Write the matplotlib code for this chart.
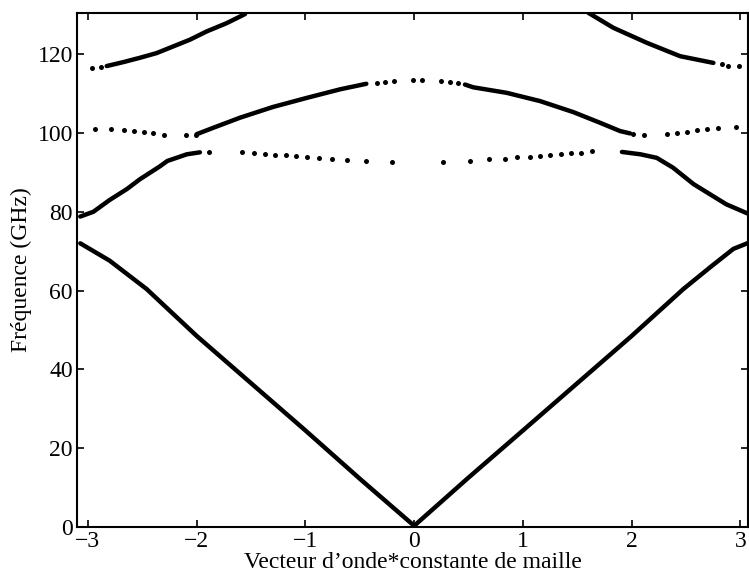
import matplotlib.pyplot as plt

plt.rcParams['font.family'] = ['Liberation Serif', 'DejaVu Serif']

# Branche acoustique (trait continu)
k_b1 = [-3.07, -2.80, -2.46, -2.00, -1.00, -0.49, 0.00, 0.49, 1.00, 2.00, 2.475, 2.72, 2.935, 3.08]
f_b1 = [72.0, 67.6, 60.4, 48.5, 24.5, 12.0, 0.3, 12.3, 24.5, 48.5, 60.4, 65.9, 70.6, 72.2]

# Deuxieme branche : parties continues gauche / droite
k_b2_left = [-3.07, -2.95, -2.80, -2.64, -2.52, -2.34, -2.27, -2.09, -1.97]
f_b2_left = [78.8, 80.0, 83.0, 85.8, 88.3, 91.5, 92.9, 94.6, 95.1]
k_b2_right = [1.91, 2.08, 2.23, 2.38, 2.57, 2.87, 3.08]
f_b2_right = [95.2, 94.6, 93.7, 91.2, 87.0, 81.9, 79.4]
# Deuxieme branche : points isoles
k_b2_dots = [-1.886, -1.586, -1.475, -1.371, -1.277, -1.181, -1.086, -0.982, -0.875, -0.755,
             -0.615, -0.445, -0.206, 0.265, 0.514, 0.688, 0.836, 0.949, 1.066, 1.158,
             1.250, 1.348, 1.443, 1.535, 1.638]
f_b2_dots = [95.3, 95.2, 95.0, 94.8, 94.5, 94.3, 94.1, 93.9, 93.7, 93.4,
             93.2, 92.9, 92.6, 92.6, 92.9, 93.3, 93.5, 93.8, 93.9, 94.1,
             94.4, 94.6, 94.9, 95.0, 95.4]

# Troisieme branche
k_b3_left = [-2.00, -1.85, -1.60, -1.30, -0.99, -0.68, -0.44]
f_b3_left = [99.7, 101.3, 103.9, 106.6, 108.9, 111.1, 112.5]
k_b3_right = [0.467, 0.544, 0.851, 1.158, 1.464, 1.709, 1.893, 1.985]
f_b3_right = [112.3, 111.6, 110.2, 108.1, 105.3, 102.6, 100.5, 99.9]
k_b3_dots = [-2.937, -2.785, -2.671, -2.579, -2.487, -2.401, -2.300, -2.098, -2.003,
             -0.34, -0.27, -0.19, -0.01, 0.07, 0.25, 0.33, 0.405,
             2.015, 2.114, 2.322, 2.420, 2.506, 2.598, 2.690, 2.791, 2.957]
f_b3_dots = [101.1, 100.9, 100.8, 100.5, 100.3, 100.0, 99.6, 99.4, 99.6,
             112.7, 112.9, 113.1, 113.4, 113.4, 113.2, 112.9, 112.6,
             99.8, 99.5, 99.8, 100.1, 100.3, 100.8, 101.1, 101.3, 101.5]

# Quatrieme branche
k_b4_left = [-2.827, -2.674, -2.521, -2.367, -2.214, -2.061, -1.907, -1.723, -1.555]
f_b4_left = [117.0, 118.0, 119.1, 120.3, 122.0, 123.7, 125.8, 127.9, 130.2]
k_b4_right = [1.602, 1.832, 2.139, 2.445, 2.751]
f_b4_right = [130.5, 126.7, 122.9, 119.5, 117.8]
k_b4_dots = [-2.965, -2.882, 2.828, 2.889, 2.990]
f_b4_dots = [116.5, 116.7, 117.4, 117.1, 117.0]

xticks = [-3, -2, -1, 0, 1, 2, 3]
yticks = [0, 20, 40, 60, 80, 100, 120]

fig = plt.figure(figsize=(7.49, 5.77), dpi=100)
ax = fig.add_axes([0.1028, 0.0867, 0.896, 0.891])

lines = [(k_b1, f_b1), (k_b2_left, f_b2_left), (k_b2_right, f_b2_right),
         (k_b3_left, f_b3_left), (k_b3_right, f_b3_right),
         (k_b4_left, f_b4_left), (k_b4_right, f_b4_right)]
for k, f in lines:
    ax.plot(k, f, color='black', lw=3.2, solid_capstyle='round', solid_joinstyle='round')

for k, f in [(k_b2_dots, f_b2_dots), (k_b3_dots, f_b3_dots), (k_b4_dots, f_b4_dots)]:
    ax.plot(k, f, 'o', color='black', ms=3.6, mew=0)

ax.set_xlim(-3.1, 3.07)
ax.set_ylim(0, 130.5)
ax.set_xticks(xticks)
ax.set_yticks(yticks)
ax.tick_params(direction='in', top=True, right=True, length=5, width=1.2,
               labelsize=17, pad=3)
for s in ax.spines.values():
    s.set_linewidth(1.5)

ax.set_xlabel("Vecteur d\u2019onde*constante de maille", fontsize=17, labelpad=0)
ax.set_ylabel("Fréquence (GHz)", fontsize=17, labelpad=4)

fig.savefig('out.png', dpi=100)
